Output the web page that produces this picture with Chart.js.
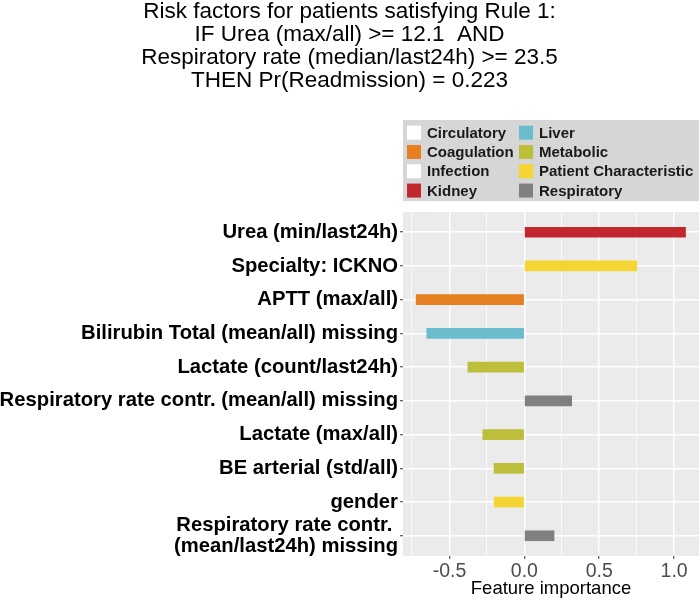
<!DOCTYPE html>
<html>
<head>
<meta charset="utf-8">
<script src="https://cdn.jsdelivr.net/npm/chart.js@4.4.1/dist/chart.umd.min.js"></script>
<style>
  body { margin: 0; background: #fff; }
  #wrap { width: 700px; height: 600px; }
</style>
</head>
<body>
<div id="wrap"><canvas id="chart1" width="700" height="600"></canvas></div>
<script>
const features = [
    'Urea (min/last24h)',
    'Specialty: ICKNO',
    'APTT (max/all)',
    'Bilirubin Total (mean/all) missing',
    'Lactate (count/last24h)',
    'Respiratory rate contr. (mean/all) missing',
    'Lactate (max/all)',
    'BE arterial (std/all)',
    'gender',
    ['Respiratory rate contr. ', '(mean/last24h) missing']
];
const importance = [1.076, 0.751, -0.722, -0.651, -0.377, 0.316, -0.277, -0.202, -0.202, 0.198];
const featureGroup = ['Kidney', 'Patient Characteristic', 'Coagulation', 'Liver', 'Metabolic',
    'Respiratory', 'Metabolic', 'Metabolic', 'Patient Characteristic', 'Respiratory'];
const groups = ['Circulatory', 'Coagulation', 'Infection', 'Kidney',
    'Liver', 'Metabolic', 'Patient Characteristic', 'Respiratory'];
const xTicks = [-0.5, 0.0, 0.5, 1.0];

const groupColors = ['#FFFFFF', '#E67E22', '#FFFFFF', '#C1272D', '#6BBDCD', '#BDBE3A', '#F4D533', '#808080'];
const FONT = '"Liberation Sans", Arial, sans-serif';

const colorOf = g => groupColors[groups.indexOf(g)];
const isMajor = v => xTicks.some(t => Math.abs(t - v) < 1e-6);

// grey panel behind the plot
const panelBg = {
    id: 'panelBg',
    beforeDraw(chart) {
        const {ctx, chartArea: a} = chart;
        ctx.save();
        ctx.fillStyle = '#fff';
        ctx.fillRect(0, 0, chart.width, chart.height);
        ctx.fillStyle = '#EBEBEB';
        ctx.fillRect(a.left, a.top, a.right - a.left, a.bottom - a.top);
        ctx.restore();
    }
};

// two-column legend box above the panel
const groupLegend = {
    id: 'groupLegend',
    afterDraw(chart) {
        const {ctx, chartArea: a} = chart;
        const boxTop = a.top - 92;
        ctx.save();
        ctx.fillStyle = '#D6D6D6';
        ctx.fillRect(a.left, boxTop, a.right - a.left, 81);
        ctx.font = 'bold 15px ' + FONT;
        ctx.textBaseline = 'middle';
        groups.forEach((g, i) => {
            const col = Math.floor(i / 4), row = i % 4;
            const x = a.left + (col ? 116 : 4);
            const y = boxTop + 12.7 + row * 19.3;
            ctx.fillStyle = groupColors[i];
            ctx.fillRect(x, y - 7, 14, 14);
            ctx.fillStyle = '#1A1A1A';
            ctx.fillText(g, x + 20, y + 1);
        });
        ctx.restore();
    }
};

const ctx1 = document.getElementById('chart1').getContext('2d');
const chart1 = new Chart(ctx1, {
    type: 'bar',
    data: {
        datasets: [{
            data: importance.map((v, i) => ({x: v, y: i + 1})),
            backgroundColor: featureGroup.map(colorOf),
            barThickness: 10
        }]
    },
    options: {
        indexAxis: 'y',
        responsive: false,
        animation: false,
        layout: { padding: { left: 0, right: 1, top: 0, bottom: 0 } },
        plugins: {
            legend: { display: false },
            tooltip: { enabled: false },
            title: {
                display: true,
                text: ['Risk factors for patients satisfying Rule 1:',
                       'IF Urea (max/all) >= 12.1  AND',
                       'Respiratory rate (median/last24h) >= 23.5',
                       'THEN Pr(Readmission) = 0.223'],
                color: '#000',
                font: { family: FONT, size: 22.5, weight: 'normal', lineHeight: 1.022 },
                padding: { top: 0, bottom: 120 }
            }
        },
        scales: {
            x: {
                type: 'linear',
                min: -0.81,
                max: 1.166,
                afterFit(scale) { scale.height = 44; },
                border: { display: false },
                grid: {
                    color: '#FFFFFF',
                    lineWidth: c => isMajor(c.tick.value) ? 1.5 : 0.7,
                    tickColor: c => isMajor(c.tick.value) ? '#333333' : 'rgba(0,0,0,0)',
                    tickLength: 3,
                    tickWidth: 1
                },
                ticks: {
                    stepSize: 0.25,
                    includeBounds: false,
                    maxRotation: 0,
                    autoSkip: false,
                    padding: 1,
                    color: '#4D4D4D',
                    font: { family: FONT, size: 19.5 },
                    callback: v => isMajor(v) ? v.toFixed(1) : ''
                },
                title: {
                    display: true,
                    text: 'Feature importance',
                    color: '#000',
                    padding: 0,
                    font: { family: FONT, size: 18.5 }
                }
            },
            y: {
                type: 'linear',
                reverse: true,
                offset: false,
                min: 0.4,
                max: 10.6,
                afterFit(scale) { scale.width = 403; },
                border: { display: false },
                grid: {
                    offset: false,
                    color: '#FFFFFF',
                    lineWidth: 1.5,
                    tickColor: '#333333',
                    tickLength: 3,
                    tickWidth: 1
                },
                ticks: {
                    stepSize: 1,
                    includeBounds: false,
                    autoSkip: false,
                    padding: 2,
                    color: '#000',
                    font: { family: FONT, size: 20.25, weight: 'bold', lineHeight: 1.05 },
                    callback: v => features[Math.round(v) - 1]
                }
            }
        }
    },
    plugins: [panelBg, groupLegend]
});
</script>
</body>
</html>
